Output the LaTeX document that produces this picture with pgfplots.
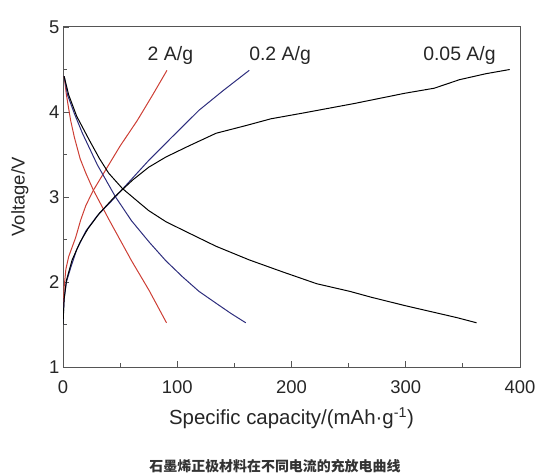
\documentclass[border=0pt]{standalone}
\usepackage{fontspec}
\setmainfont{Liberation Sans}
\newfontfamily\cjk{Noto Sans CJK SC}
\usepackage{pgfplots}
\pgfplotsset{compat=1.18}
\definecolor{cred}{RGB}{205,62,52}
\definecolor{cblue}{RGB}{45,45,125}
\definecolor{caxis}{RGB}{85,85,85}
\begin{document}
\begin{tikzpicture}
\path[use as bounding box] (0,0) rectangle (544bp,474bp);
\begin{axis}[
  scale only axis,
  width=457bp, height=340bp,
  at={(63bp,107bp)}, anchor=south west,
  xmin=0, xmax=400, ymin=1, ymax=5,
  xtick={0,100,...,400}, ytick={1,2,...,5},
  minor xtick={50,150,250,350}, minor ytick={1.5,2.5,3.5,4.5},
  tick align=inside,
  xtick pos=bottom, ytick pos=left,
  major tick length=6bp, minor tick length=4bp,
  axis line style={caxis, line width=1pt},
  tick style={caxis, line width=0.8pt},
  every tick label/.append style={font=\fontsize{18.5}{20}\selectfont, text=black!85},
  xticklabel style={yshift=-10bp},
  /pgf/number format/assume math mode=true,
  xlabel={Specific capacity/(mAh·g\textsuperscript{-1})},
  ylabel={Voltage/V},
  xlabel style={font=\fontsize{20.5}{22}\selectfont, text=black!85, yshift=-7bp},
  ylabel style={font=\fontsize{18.5}{20}\selectfont, text=black!85, yshift=14bp},
  clip=true,
]
% 2 A/g charge
\addplot[cred, line width=1pt] coordinates {
 (0,1.62) (1,1.94) (2.5,2.15) (5,2.3) (11,2.52) (15.5,2.73) (20,2.9) (26.6,3.08) (37.4,3.32) (50,3.6) (65,3.9) (78,4.19) (91,4.49)};
% 2 A/g discharge
\addplot[cred, line width=1pt] coordinates {
 (1,4.42) (3,4.2) (6.7,3.9) (10,3.7) (15,3.45) (20,3.28) (26.6,3.08) (40.4,2.73) (60,2.25) (75.4,1.9) (90.6,1.52)};
% 0.2 A/g charge
\addplot[cblue, line width=1pt] coordinates {
 (0,1.55) (1,1.8) (3,2.0) (7,2.18) (12,2.38) (20,2.6) (30,2.78) (43,2.96) (58,3.18) (75,3.43) (95,3.7) (119,4.02) (140,4.25) (163,4.49)};
% 0.2 A/g discharge
\addplot[cblue, line width=1pt] coordinates {
 (1,4.42) (4,4.2) (10,3.98) (17,3.75) (30,3.38) (46,3.0) (60,2.72) (75.4,2.47) (90,2.25) (104.7,2.06) (119,1.89) (134,1.75) (147,1.63) (160,1.52)};
% 0.05 A/g charge
\addplot[black, line width=1pt] coordinates {
 (0,1.5) (1,1.8) (3,2.02) (8,2.26) (15,2.47) (22,2.63) (32,2.81) (45,3.0) (61,3.2) (75,3.35) (90,3.47) (110,3.6) (134,3.75) (160,3.84) (182,3.92) (211,3.99) (255,4.1) (299,4.22) (325,4.28) (347,4.38) (370,4.45) (391,4.5)};
% 0.05 A/g discharge
\addplot[black, line width=1pt] coordinates {
 (1,4.42) (5,4.2) (12,3.95) (23,3.67) (32,3.45) (40,3.28) (52,3.1) (67,2.93) (75,2.84) (90,2.71) (105,2.61) (134,2.42) (163,2.26) (192,2.12) (222,1.98) (251,1.89) (270,1.82) (300,1.72) (329,1.63) (345,1.58) (362,1.52)};
\node[font=\fontsize{19.5}{21}\selectfont, text=black!85] at (axis cs:94,4.66) {2 A/g};
\node[font=\fontsize{19.5}{21}\selectfont, text=black!85] at (axis cs:190,4.66) {0.2 A/g};
\node[font=\fontsize{19.5}{21}\selectfont, text=black!85] at (axis cs:347,4.66) {0.05 A/g};
\end{axis}
\node[font=\cjk\bfseries\fontsize{14}{16}\selectfont, text=black!80] at (275bp,8bp) {石墨烯正极材料在不同电流的充放电曲线};
\end{tikzpicture}
\end{document}
